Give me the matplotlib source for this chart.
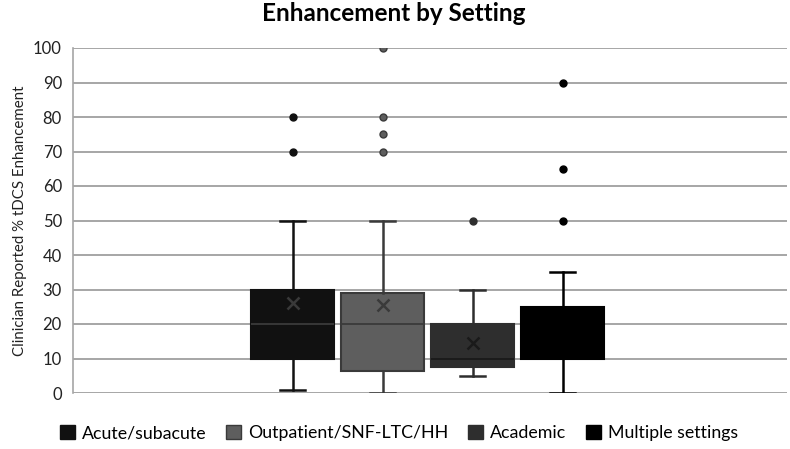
import matplotlib.pyplot as plt
from matplotlib.patches import Patch

plt.rcParams['font.family'] = ['Lato', 'DejaVu Sans']

# values
settings = ["Acute/subacute", "Outpatient/SNF-LTC/HH", "Academic", "Multiple settings"]
whislo = [1, 0, 5, 0]
q1 = [10, 6.5, 7.5, 10]
med = [20, 20, 10, 10]
q3 = [30, 29, 20, 25]
whishi = [50, 50, 30, 35]
means = [26, 25.5, 14.5, 17]
fliers = [[70, 80], [70, 75, 80, 100], [50], [50, 65, 90]]

face = ["#111111", "#5e5e5e", "#2e2e2e", "#000000"]
edge = ["#111111", "#3a3a3a", "#2e2e2e", "#000000"]
inner = ["#3a3a3a", "#3a3a3a", "#1a1a1a", "#000000"]

stats = []
for i in range(4):
    stats.append(dict(whislo=whislo[i], q1=q1[i], med=med[i], q3=q3[i],
                      whishi=whishi[i], mean=means[i], fliers=fliers[i]))

fig = plt.figure(figsize=(7.9, 4.49), dpi=100)
ax = fig.add_axes([73/790, 1-393/449, (787-73)/790, (393-48)/449])

ax.yaxis.grid(True, color="#a6a6a6", lw=1.4)
ax.set_axisbelow(True)

for i in range(4):
    ax.bxp([stats[i]], positions=[i+1], widths=0.92, showmeans=True,
           patch_artist=True,
           boxprops=dict(facecolor=face[i], edgecolor=edge[i], lw=1.5),
           medianprops=dict(color=inner[i], lw=1.3),
           whiskerprops=dict(color=edge[i], lw=1.8),
           capprops=dict(color=edge[i], lw=1.8),
           capwidths=0.28,
           meanprops=dict(marker="x", markeredgecolor=inner[i], markersize=8,
                          markeredgewidth=1.8),
           flierprops=dict(marker="o", markerfacecolor=face[i],
                           markeredgecolor=edge[i], markersize=5))

ax.set_xlim(-1.44, 6.49)
ax.set_ylim(0, 100)
ax.set_yticks(range(0, 101, 10))
ax.set_xticks([])
ax.tick_params(axis="y", length=0, labelsize=12, colors="#222222", pad=8)
for s in ["top", "right", "bottom"]:
    ax.spines[s].set_visible(False)
ax.spines["left"].set_color("#a6a6a6")
ax.spines["left"].set_linewidth(1.2)

ax.set_ylabel("Clinician Reported % tDCS Enhancement", fontsize=10.8, color="#222222")
fig.suptitle("Enhancement by Setting", fontsize=17.5, fontweight="bold", x=0.499, y=0.995)

handles = [Patch(facecolor=face[i], edgecolor=edge[i]) for i in range(4)]
fig.legend(handles, settings, loc="center", bbox_to_anchor=(0.505, 0.035), ncol=4,
           frameon=False, fontsize=12.8, handlelength=0.85, handleheight=0.85,
           handletextpad=0.4, columnspacing=1.1)

fig.savefig("out.png", dpi=100)
